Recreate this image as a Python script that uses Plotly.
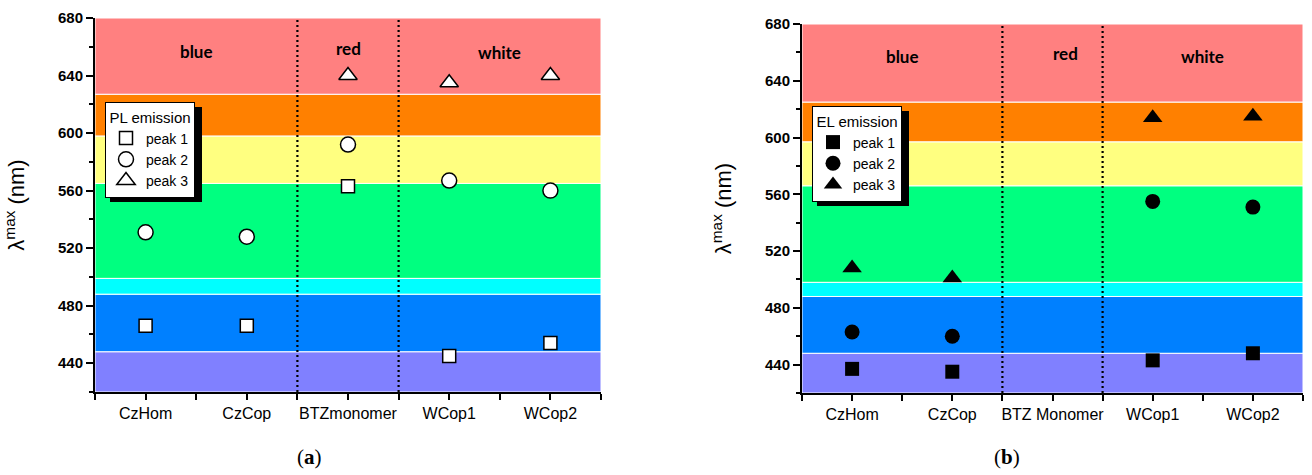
import plotly.graph_objects as go

# ---------------- data ----------------
categories_a = ["CzHom", "CzCop", "BTZmonomer", "WCop1", "WCop2"]
categories_b = ["CzHom", "CzCop", "BTZ Monomer", "WCop1", "WCop2"]

# PL emission (panel a)
pl_peak1 = [466, 466, 563, 445, 454]
pl_peak2 = [531, 528, 592, 567, 560]
pl_peak3 = [None, None, 640, 635, 640]

# EL emission (panel b)
el_peak1 = [437, 435, None, 443, 448]
el_peak2 = [463, 460, None, 555, 551]
el_peak3 = [508, 501, None, 614, 615]

# colour bands (wavelength edges, nm)
band_edges_a = [420, 448, 488, 499, 565, 598, 627, 680]
band_edges_b = [420, 448, 488, 498, 566, 597, 625, 680]
band_colors = ["#8080FF", "#0080FF", "#00FFFF", "#00FF80", "#FFFF80", "#FF8000", "#FF8080"]

region_labels = ["blue", "red", "white"]
y_ticks = [440, 480, 520, 560, 600, 640, 680]

# ---------------- layout helpers ----------------
W, H = 1312, 475
def px_x(p):
    return p / W
def px_y(p):
    return 1 - p / H

xa_dom = [px_x(95), px_x(601)]
ya_dom = [px_y(392), px_y(18)]
xb_dom = [px_x(802), px_x(1303)]
yb_dom = [px_y(393), px_y(24)]

FONT = "Liberation Sans"
xidx_a = list(range(len(categories_a)))
xidx_b = list(range(len(categories_b)))
boundaries = [i - 0.5 for i in range(len(categories_a) + 1)]

fig = go.Figure()

def add_series(x, y, name, symbol, filled, xaxis, yaxis, legend, size):
    fig.add_trace(go.Scatter(
        x=x, y=y, mode="markers", name=name,
        xaxis=xaxis, yaxis=yaxis, legend=legend,
        marker=dict(symbol=symbol, size=size,
                    color="black" if filled else "white",
                    line=dict(color="black", width=0 if filled else 1.5)),
        showlegend=True, cliponaxis=False,
    ))

add_series(xidx_a, pl_peak1, "peak 1", "square", False, "x", "y", "legend", 13)
add_series(xidx_a, pl_peak2, "peak 2", "circle", False, "x", "y", "legend", 15)
add_series(xidx_a, pl_peak3, "peak 3", "triangle-up", False, "x", "y", "legend", 16)
add_series(xidx_b, el_peak1, "peak 1", "square", True, "x2", "y2", "legend2", 14)
add_series(xidx_b, el_peak2, "peak 2", "circle", True, "x2", "y2", "legend2", 15)
add_series(xidx_b, el_peak3, "peak 3", "triangle-up", True, "x2", "y2", "legend2", 17)

shapes = []
def add_bands(edges, xref, yref):
    for i, c in enumerate(band_colors):
        shapes.append(dict(type="rect", xref=xref + " domain", yref=yref,
                           x0=0, x1=1, y0=edges[i], y1=edges[i + 1],
                           fillcolor=c, line=dict(color="white", width=1),
                           layer="below"))
add_bands(band_edges_a, "x", "y")
add_bands(band_edges_b, "x2", "y2")

# dotted separators between groups (category boundaries)
for xr, yr in (("x", "y"), ("x2", "y2")):
    for b in (boundaries[2], boundaries[3]):
        shapes.append(dict(type="line", xref=xr, yref=yr + " domain",
                           x0=b, x1=b, y0=0, y1=1,
                           line=dict(color="black", width=2.2, dash="2px,3px"),
                           layer="above"))

# legend boxes (top-left corners, px) and their drop shadows
LEG_W, LEG_H, SH = 92, 95, 5
legend_pos = [(105, 102), (812, 106)]
for lx, ly in legend_pos:
    shapes.append(dict(type="rect", xref="paper", yref="paper",
                       x0=px_x(lx + SH), x1=px_x(lx + SH + LEG_W),
                       y0=px_y(ly + SH + LEG_H), y1=px_y(ly + SH),
                       fillcolor="black", line=dict(width=0), layer="above"))

annotations = []
lab_font = dict(family="Lato", size=17, color="black", weight="bold")
for (xr, yr, pos) in (("x", "y", [(0.5, 657), (2, 659), (3.5, 656)]),
                      ("x2", "y2", [(0.5, 657), (2.125, 659), (3.5, 657)])):
    for lab, (xx, yy) in zip(region_labels, pos):
        annotations.append(dict(text=lab, x=xx, y=yy, xref=xr, yref=yr,
                                showarrow=False, font=lab_font))

cap_font = dict(family="Liberation Serif", size=21, color="black")
annotations.append(dict(text="(<b>a</b>)", x=px_x(309), y=px_y(457), xref="paper", yref="paper",
                        xanchor="center", yanchor="middle", showarrow=False, font=cap_font))
annotations.append(dict(text="(<b>b</b>)", x=px_x(1007), y=px_y(457), xref="paper", yref="paper",
                        xanchor="center", yanchor="middle", showarrow=False, font=cap_font))

def xaxis_cfg(dom, anchor, ticktext):
    return dict(domain=dom, anchor=anchor, range=[-0.5, len(ticktext) - 0.5],
                tickmode="array", tickvals=list(range(len(ticktext))), ticktext=ticktext,
                ticks="outside", ticklen=6, tickwidth=1.5, tickcolor="black",
                minor=dict(tickmode="array", tickvals=boundaries, ticks="outside",
                           ticklen=6, tickwidth=1.5, tickcolor="black"),
                showline=True, linecolor="black", linewidth=2,
                showgrid=False, zeroline=False, automargin=False,
                tickfont=dict(family=FONT, size=16, color="black"))

def yaxis_cfg(dom, anchor):
    return dict(domain=dom, anchor=anchor, range=[420, 680],
                tickmode="array", tickvals=y_ticks,
                ticks="outside", ticklen=7, tickwidth=1.5, tickcolor="black",
                minor=dict(dtick=20, tick0=420, ticks="outside", ticklen=4,
                           tickwidth=1.5, tickcolor="black"),
                showline=True, linecolor="black", linewidth=2,
                showgrid=False, zeroline=False, automargin=False,
                tickfont=dict(family=FONT, size=15, color="black", weight="bold"),
                title=dict(text="λ<sup>max</sup> (nm)",
                           font=dict(family=FONT, size=22, color="black"), standoff=27))

def top_cfg(base, anchor, n):
    return dict(overlaying=base, anchor=anchor, side="top", range=[-0.5, n - 0.5],
                tickmode="array", tickvals=list(range(n)), ticks="inside", ticklen=5,
                tickwidth=1.5, tickcolor="black", showticklabels=False,
                minor=dict(tickmode="array", tickvals=boundaries, ticks="inside",
                           ticklen=5, tickwidth=1.5, tickcolor="black"),
                showline=True, linecolor="black", linewidth=2,
                showgrid=False, zeroline=False, automargin=False)

def right_cfg(base, anchor):
    return dict(overlaying=base, anchor=anchor, side="right", range=[420, 680],
                tickmode="array", tickvals=y_ticks, ticks="inside", ticklen=5,
                tickwidth=1.5, tickcolor="black", showticklabels=False,
                minor=dict(dtick=20, tick0=420, ticks="inside", ticklen=5,
                           tickwidth=1.5, tickcolor="black"),
                showline=True, linecolor="black", linewidth=2,
                showgrid=False, zeroline=False, automargin=False)

legend_common = dict(bgcolor="white", bordercolor="black", borderwidth=1,
                     font=dict(family=FONT, size=14, color="black"),
                     xanchor="left", yanchor="top", tracegroupgap=0,
                     itemclick=False, itemdoubleclick=False)

fig.update_layout(
    width=W, height=H, margin=dict(l=0, r=0, t=0, b=0),
    paper_bgcolor="white", plot_bgcolor="white",
    font=dict(family=FONT, color="black"),
    xaxis=xaxis_cfg(xa_dom, "y", categories_a),
    yaxis=yaxis_cfg(ya_dom, "x"),
    xaxis2=xaxis_cfg(xb_dom, "y2", categories_b),
    yaxis2=yaxis_cfg(yb_dom, "x2"),
    xaxis3=top_cfg("x", "y", len(categories_a)),
    yaxis3=right_cfg("y", "x"),
    xaxis4=top_cfg("x2", "y2", len(categories_b)),
    yaxis4=right_cfg("y2", "x2"),
    legend=dict(x=px_x(legend_pos[0][0]), y=px_y(legend_pos[0][1]),
                title=dict(text="PL emission", side="top center",
                           font=dict(family=FONT, size=15)), **legend_common),
    legend2=dict(x=px_x(legend_pos[1][0]), y=px_y(legend_pos[1][1]),
                 title=dict(text="EL emission", side="top center",
                            font=dict(family=FONT, size=15)), **legend_common),
    shapes=shapes, annotations=annotations, showlegend=True,
)

fig.write_html("out.html")
